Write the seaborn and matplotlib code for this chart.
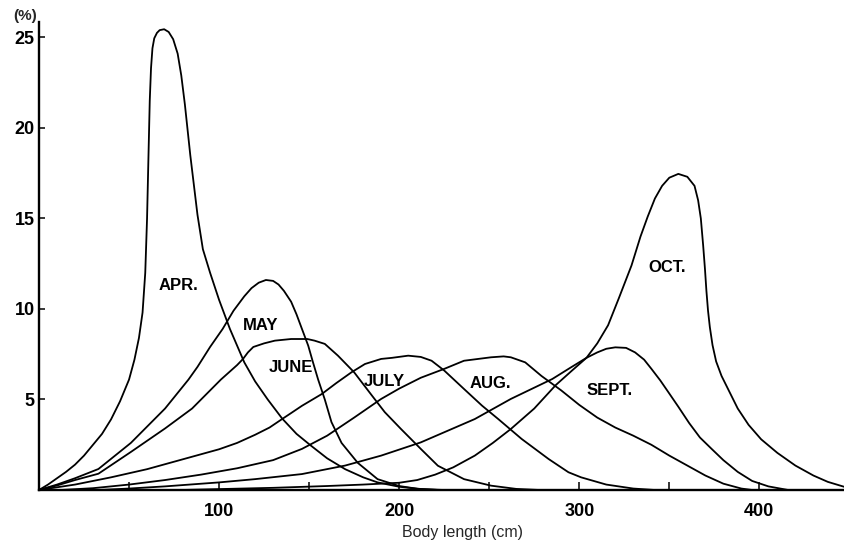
import matplotlib
matplotlib.use("Agg")
import matplotlib.pyplot as plt
import pandas as pd
import seaborn as sns

# ---------------- data ----------------
months = ["APR.", "MAY", "JUNE", "JULY", "AUG.", "SEPT.", "OCT."]

apr_len = [0, 5, 10, 15, 20, 25, 30, 35, 40, 45, 50, 53, 55.5, 57.5, 59, 60, 60.8, 61.5, 62.2,
           63, 64, 65.5, 67, 69.5, 72, 74.5, 77, 79, 81, 84, 88, 91, 95, 100, 106, 114, 120,
           127, 135, 143, 151, 160, 170, 180, 188, 200, 212, 225]
apr_pct = [0, 0.3, 0.65, 1.0, 1.4, 1.9, 2.5, 3.1, 3.9, 4.9, 6.1, 7.2, 8.4, 9.8, 12.0, 15.0,
           18.5, 21.5, 23.3, 24.4, 24.95, 25.25, 25.4, 25.45, 25.3, 24.9, 24.1, 22.9, 21.3,
           18.5, 15.2, 13.3, 12.0, 10.5, 8.9, 7.05, 6.0, 5.0, 3.95, 3.1, 2.45, 1.75, 1.15, 0.7,
           0.42, 0.18, 0.05, 0]

may_len = [0, 10, 20, 33, 51, 70, 83, 88, 95, 102, 108, 114, 118, 122, 126, 130, 133, 136, 140,
           143, 146, 149.5, 152, 155, 158.7, 162.4, 168, 177, 188, 200, 210, 222]
may_pct = [0, 0.3, 0.65, 1.16, 2.6, 4.5, 6.1, 6.8, 7.9, 8.9, 9.9, 10.7, 11.15, 11.45, 11.6,
           11.55, 11.35, 11.0, 10.4, 9.7, 8.9, 7.97, 7.1, 6.1, 5.0, 3.75, 2.6, 1.5, 0.6, 0.22,
           0.07, 0]

june_len = [0, 10, 20, 33, 51, 70, 85, 88, 101, 110, 113.3, 116, 119, 125, 131, 140, 149, 153,
            158.7, 166, 175, 185, 192, 201, 212, 221.5, 236, 251, 265, 278]
june_pct = [0, 0.25, 0.55, 0.9, 2.1, 3.4, 4.5, 4.8, 6.1, 6.9, 7.24, 7.6, 7.9, 8.1, 8.25, 8.34,
            8.34, 8.25, 8.07, 7.42, 6.5, 5.2, 4.3, 3.37, 2.27, 1.34, 0.6, 0.24, 0.06, 0]

july_len = [0, 20, 40, 60, 80, 100, 110, 120, 128, 135, 140, 146, 157, 165, 173.5, 181, 190,
            196, 205, 212, 218, 225, 236, 246, 255, 268, 283, 294, 301, 315, 330, 342]
july_pct = [0, 0.3, 0.7, 1.15, 1.7, 2.25, 2.6, 3.05, 3.45, 3.92, 4.25, 4.65, 5.3, 5.9, 6.5,
            6.96, 7.24, 7.3, 7.42, 7.35, 7.14, 6.6, 5.58, 4.66, 3.92, 2.82, 1.71, 0.98, 0.7,
            0.3, 0.08, 0]

aug_len = [12, 30, 50, 70, 90, 110, 130, 146, 160, 175, 190, 200, 212, 225, 236, 251, 258, 262,
           270, 279, 290, 300, 310, 320, 330, 340, 350, 360, 370, 380, 390, 396]
aug_pct = [0, 0.1, 0.3, 0.55, 0.85, 1.2, 1.65, 2.27, 3.0, 4.0, 5.03, 5.6, 6.2, 6.69, 7.14, 7.33,
           7.38, 7.33, 7.05, 6.3, 5.5, 4.7, 4.0, 3.45, 3.0, 2.5, 1.9, 1.35, 0.8, 0.35, 0.08, 0]

sept_len = [33, 50, 70, 100, 120, 146, 170, 190, 212, 242, 262, 285, 295, 304, 310, 315, 320,
            326, 331, 336, 340, 345, 349.5, 355, 361, 367, 373.5, 380, 388, 396, 405, 416]
sept_pct = [0, 0.08, 0.2, 0.42, 0.6, 0.88, 1.35, 1.9, 2.63, 3.92, 5.03, 6.13, 6.75, 7.3, 7.6,
            7.8, 7.88, 7.85, 7.6, 7.2, 6.7, 6.05, 5.4, 4.6, 3.7, 2.9, 2.27, 1.65, 1.0, 0.5, 0.2, 0]

oct_len = [79, 100, 130, 160, 180, 200, 210, 220, 230, 242, 252, 262, 275, 287, 296, 304, 310,
           316, 322, 329, 334, 338, 342, 346, 350, 355, 360, 364, 366, 367.5, 368.8, 369.8,
           370.6, 371.5, 372.5, 374, 376, 379, 384, 388, 394, 401, 410, 420, 430, 438, 448]
oct_pct = [0, 0.05, 0.12, 0.22, 0.3, 0.4, 0.55, 0.85, 1.25, 1.9, 2.6, 3.37, 4.5, 5.8, 6.6, 7.3,
           8.1, 9.1, 10.6, 12.4, 14.0, 15.1, 16.1, 16.8, 17.25, 17.46, 17.3, 16.8, 16.0, 15.0,
           13.5, 12.2, 11.0, 9.9, 9.0, 8.0, 7.1, 6.3, 5.3, 4.5, 3.6, 2.8, 2.05, 1.35, 0.8, 0.45,
           0.15]

x_ticks = [50, 100, 150, 200, 250, 300, 350, 400]
x_tick_labels = ["", "100", "", "200", "", "300", "", "400"]
y_ticks = [5, 10, 15, 20, 25]
y_tick_labels = ["5", "10", "15", "20", "25"]

lengths = [apr_len, may_len, june_len, july_len, aug_len, sept_len, oct_len]
pcts = [apr_pct, may_pct, june_pct, july_pct, aug_pct, sept_pct, oct_pct]

df = pd.concat(
    [pd.DataFrame({"month": m, "length": xs, "pct": ys}) for m, xs, ys in zip(months, lengths, pcts)],
    ignore_index=True,
)

# label anchor positions (data coordinates)
label_pos = {"APR.": (77.2, 11.3), "MAY": (122.8, 9.1), "JUNE": (140.0, 6.75),
             "JULY": (191.5, 6.0), "AUG.": (250.6, 5.9), "SEPT.": (317.0, 5.5),
             "OCT.": (348.9, 12.3)}

# ---------------- drawing ----------------
sns.set_style("ticks")
plt.rcParams["font.family"] = ["Liberation Sans", "DejaVu Sans"]

fig = plt.figure(figsize=(8.44, 5.46), dpi=100)
ax = fig.add_axes([39 / 844, 1 - 490 / 546, 805 / 844, (490 - 22) / 546])

sns.lineplot(data=df, x="length", y="pct", hue="month", hue_order=months,
             palette={m: "black" for m in months}, estimator=None, legend=False,
             linewidth=1.3, ax=ax)
for line in ax.lines:
    line.set_solid_joinstyle("round")

ax.set_xlim(0, 447)
ax.set_ylim(0, 25.85)

for side in ("top", "right"):
    ax.spines[side].set_visible(False)
for side in ("left", "bottom"):
    ax.spines[side].set_linewidth(1.7)
    ax.spines[side].set_color("black")

ax.set_xticks(x_ticks, labels=x_tick_labels, fontweight="bold")
ax.set_yticks(y_ticks, labels=y_tick_labels, fontweight="bold")
ax.tick_params(axis="x", direction="in", length=6, width=1.1, labelsize=13, pad=9, colors="black")
ax.tick_params(axis="y", direction="in", length=4, width=1.1, labelsize=13, pad=3, colors="black")

ax.set_xlabel("")
ax.set_ylabel("")

for m in months:
    lx, ly = label_pos[m]
    ax.text(lx, ly, m, ha="center", va="center", fontsize=12, fontweight="bold", color="black")

fig.text(25 / 844, 1 - 16 / 546, "(%)", ha="center", va="center", fontsize=11, fontweight="bold")
fig.text(462 / 844, 1 - 533 / 546, "Body length (cm)", ha="center", va="center", fontsize=11.5)

fig.savefig("out.png", dpi=100, facecolor="white")
